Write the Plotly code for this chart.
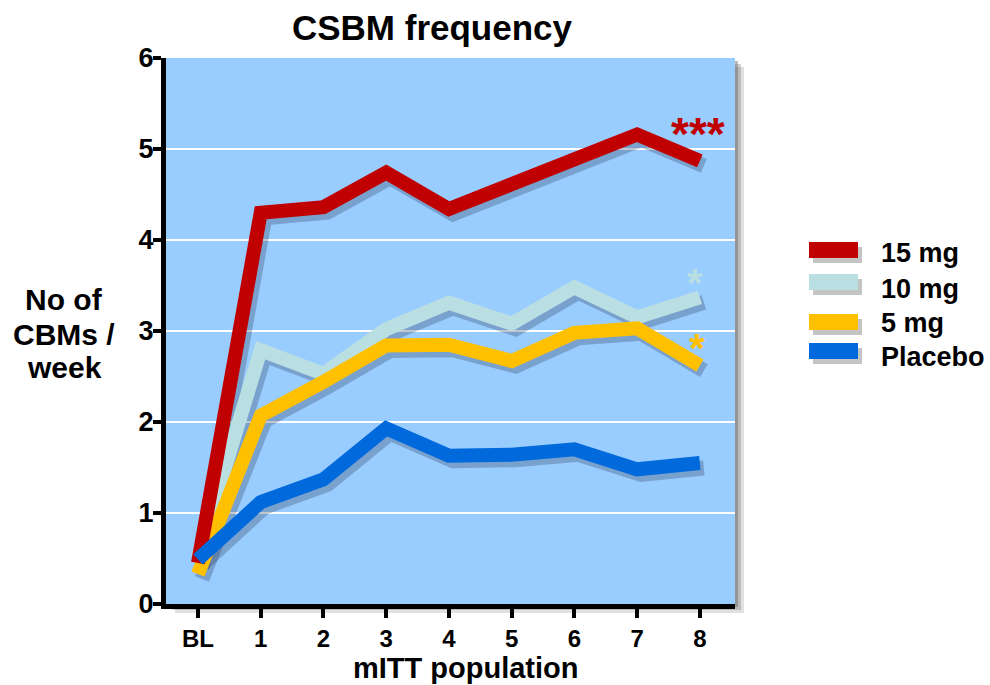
import plotly.graph_objects as go

# ---- data -------------------------------------------------------------
weeks = ["BL", "1", "2", "3", "4", "5", "6", "7", "8"]
mg15 = [0.45, 4.30, 4.36, 4.74, 4.34, 4.62, 4.89, 5.16, 4.87]
mg10 = [0.52, 2.79, 2.53, 3.02, 3.31, 3.08, 3.48, 3.15, 3.37]
mg5 = [0.33, 2.07, 2.44, 2.84, 2.85, 2.67, 2.98, 3.03, 2.62]
placebo = [0.49, 1.12, 1.37, 1.93, 1.63, 1.64, 1.70, 1.48, 1.55]

series_names = ["15 mg", "10 mg", "5 mg", "Placebo"]
significance = {"15 mg": "***", "10 mg": "*", "5 mg": "*"}
y_ticks = [0, 1, 2, 3, 4, 5, 6]
y_title_lines = ["No of", "CBMs /", "week"]

# ---- styling ----------------------------------------------------------
FONT = "Arial, Liberation Sans, sans-serif"
colors = {"15 mg": "#C00000", "10 mg": "#BADFE2", "5 mg": "#FFC000", "Placebo": "#006ADC"}
values = {"15 mg": mg15, "10 mg": mg10, "5 mg": mg5, "Placebo": placebo}
draw_order = ["10 mg", "5 mg", "15 mg", "Placebo"]

W, H = 990, 685
ML, MR, MT, MB = 166, 255, 58, 81
PW, PH = W - ML - MR, H - MT - MB

X_RANGE = [-0.51, 8.56]
Y_RANGE = [0, 6]
# drop-shadow offset in pixels (right, down)
SDX, SDY = 4, 5
x_unit = PW / (X_RANGE[1] - X_RANGE[0])
y_unit = PH / (Y_RANGE[1] - Y_RANGE[0])


def px(xp, yp):
    """pixel position -> paper coordinates"""
    return (xp - ML) / PW, (H - MB - yp) / PH


fig = go.Figure()

# shadows live on the hidden base axes, whose ranges are nudged
for name in draw_order:
    fig.add_trace(go.Scatter(
        x=weeks, y=values[name], mode="lines", xaxis="x", yaxis="y",
        line=dict(color="rgba(40,50,80,0.28)", width=15),
        hoverinfo="skip", showlegend=False,
    ))

# visible lines on the overlaying axes
for name in draw_order:
    fig.add_trace(go.Scatter(
        x=weeks, y=values[name], mode="lines", name=name,
        xaxis="x2", yaxis="y2",
        line=dict(color=colors[name], width=14),
        showlegend=False,
    ))

# significance markers next to the last point
star_font = {"15 mg": 46, "10 mg": 40, "5 mg": 40}
star_shift = {"15 mg": (-2, 27), "10 mg": (-5, 14), "5 mg": (-3, 18)}
for name, mark in significance.items():
    dx, dy = star_shift[name]
    fig.add_annotation(
        x=weeks[-1], y=values[name][-1], xref="x2", yref="y2",
        text="<b>%s</b>" % mark, showarrow=False,
        xanchor="center", yanchor="middle", xshift=dx, yshift=dy,
        font=dict(family=FONT, size=star_font[name], color=colors[name]),
    )

shapes = []
# plot background with a soft shadow on its right edge
for i, alpha in enumerate((0.18, 0.28, 0.4)):
    off = 9 - 3 * i
    shapes.append(dict(type="rect", xref="x domain", yref="y domain",
                       x0=off / PW, x1=1 + off / PW, y0=-off / PH, y1=1 - off / PH,
                       fillcolor="rgba(90,90,90,%.2f)" % alpha, line_width=0, layer="below"))
shapes.append(dict(type="rect", xref="x domain", yref="y domain",
                   x0=0, x1=1, y0=0, y1=1,
                   fillcolor="#99CCFF", line_width=0, layer="below"))

# legend built from swatches and labels
legend_swatch_y = {"15 mg": 250, "10 mg": 282, "5 mg": 322, "Placebo": 351}
legend_text_y = {"15 mg": 253, "10 mg": 289, "5 mg": 323, "Placebo": 357}
for name in series_names:
    yc = legend_swatch_y[name]
    x0, y0 = px(809 + SDX, yc + 8 + SDY)
    x1, y1 = px(858 + SDX, yc - 8 + SDY)
    shapes.append(dict(type="rect", xref="paper", yref="paper", x0=x0, x1=x1, y0=y0, y1=y1,
                       fillcolor="rgba(60,60,60,0.30)", line_width=0))
    x0, y0 = px(809, yc + 8)
    x1, y1 = px(858, yc - 8)
    shapes.append(dict(type="rect", xref="paper", yref="paper", x0=x0, x1=x1, y0=y0, y1=y1,
                       fillcolor=colors[name], line_width=0))
    tx, ty = px(879, legend_text_y[name])
    fig.add_annotation(x=tx, y=ty, xref="paper", yref="paper", text="<b>%s</b>" % name,
                       showarrow=False, xanchor="left", yanchor="middle",
                       font=dict(family=FONT, size=27, color="black"))

# y-axis title, one line at a time
for line, ly in zip(y_title_lines, (299, 334, 367)):
    tx, ty = px(64, ly)
    fig.add_annotation(x=tx, y=ty, xref="paper", yref="paper",
                       text="<b>%s</b>" % line, showarrow=False,
                       xanchor="center", yanchor="middle",
                       font=dict(family=FONT, size=30, color="black"))

# x-axis title
tx, ty = px(466, 668)
fig.add_annotation(x=tx, y=ty, xref="paper", yref="paper",
                   text="<b>mITT population</b>", showarrow=False,
                   xanchor="center", yanchor="middle",
                   font=dict(family=FONT, size=29, color="black"))

fig.update_layout(
    width=W, height=H,
    margin=dict(l=ML, r=MR, t=MT, b=MB, pad=0),
    paper_bgcolor="white", plot_bgcolor="rgba(0,0,0,0)",
    font=dict(family=FONT, color="black"),
    title=dict(text="<b>CSBM frequency</b>", xref="container", yref="container",
               x=432 / W, y=1 - 28 / H, xanchor="center", yanchor="middle",
               font=dict(family=FONT, size=35, color="black")),
    showlegend=False,
    shapes=shapes,
    xaxis=dict(type="category", categoryorder="array", categoryarray=weeks,
               range=[X_RANGE[0] - SDX / x_unit, X_RANGE[1] - SDX / x_unit],
               visible=False, domain=[0, 1]),
    yaxis=dict(range=[Y_RANGE[0] + SDY / y_unit, Y_RANGE[1] + SDY / y_unit],
               visible=False, domain=[0, 1]),
    xaxis2=dict(type="category", categoryorder="array", categoryarray=weeks,
                overlaying="x", anchor="y2", side="bottom", range=X_RANGE,
                showgrid=False, zeroline=False,
                showline=True, linecolor="black", linewidth=5,
                ticks="outside", ticklen=9, tickwidth=4, tickcolor="black",
                tickfont=dict(family=FONT, size=24, color="black", weight="bold")),
    yaxis2=dict(overlaying="y", anchor="x2", side="left", range=Y_RANGE,
                tickvals=y_ticks, showgrid=True, gridcolor="white", gridwidth=2,
                zeroline=False, showline=True, linecolor="black", linewidth=5,
                ticks="outside", ticklen=8, tickwidth=4, tickcolor="black",
                ticklabelstandoff=-6,
                tickfont=dict(family=FONT, size=27, color="black", weight="bold")),
)

fig.write_html("out.html")
